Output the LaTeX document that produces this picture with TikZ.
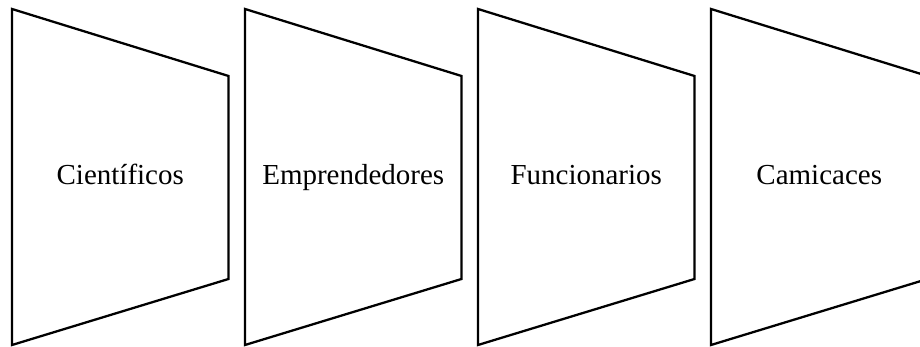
\documentclass[tikz,border=0pt]{standalone}
\usepackage{fontspec}
\setmainfont{Liberation Serif}
\usepackage{tikz}

\begin{document}
\begin{tikzpicture}[x=0.02cm, y=0.02cm, every node/.style={font=\fontsize{16.5}{19}\selectfont, anchor=base}, trap/.style={draw, line width=1.3pt, line join=miter}]
	\clip (0,0) rectangle (920,347);
	\foreach \i/\name/\txt in {0/cie/Científicos, 1/emp/Emprendedores, 2/fun/Funcionarios, 3/cam/Camicaces} {
		\draw[trap] (12+233*\i,338) -- ++(216.5,-67) -- ++(0,-203) -- ++(-216.5,-66) -- cycle;
		\node (\name) at (120.25+233*\i,162) {\txt};
	}
\end{tikzpicture}
\end{document}
